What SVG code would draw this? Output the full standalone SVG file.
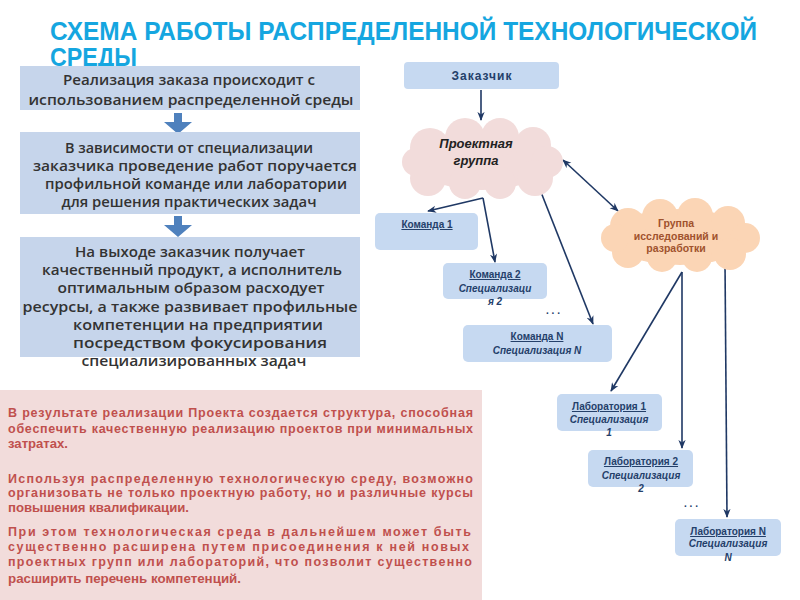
<svg xmlns="http://www.w3.org/2000/svg" width="800" height="600" viewBox="0 0 800 600">
<defs>
<style>
.title{font-family:"Liberation Sans",Arial,sans-serif;font-weight:bold;font-size:25px;fill:#15a6e0}
.lbox{fill:#c6d5eb}
.ltxt{font-family:"Open Sans","Liberation Sans",sans-serif;font-weight:600;font-size:14.5px;fill:#333333;text-anchor:middle}
.rbox{fill:#c6d9f1}
.rt{font-family:"Liberation Sans",Arial,sans-serif;font-weight:bold;font-size:10px;fill:#24406a;text-anchor:middle}
.u{text-decoration:underline}
.it{font-style:italic}
.btxt{font-family:"Liberation Sans",Arial,sans-serif;font-weight:bold;font-size:12.5px;fill:#c0504d}
.conn{stroke:#1f3864;stroke-width:1.6;fill:none}
.bluearrow{fill:#4f81bd}
</style>
<marker id="ah" viewBox="0 0 10 10" refX="9" refY="5" markerWidth="9" markerHeight="9" markerUnits="userSpaceOnUse" orient="auto-start-reverse">
<path d="M0,1 L10,5 L0,9 L3,5 z" fill="#1f3864"/>
</marker>
</defs>
<rect width="800" height="600" fill="#ffffff"/>

<g id="title">
<text class="title" x="50" y="40" textLength="707" lengthAdjust="spacingAndGlyphs">СХЕМА РАБОТЫ РАСПРЕДЕЛЕННОЙ ТЕХНОЛОГИЧЕСКОЙ</text>
<text class="title" x="50" y="66" textLength="87" lengthAdjust="spacingAndGlyphs">СРЕДЫ</text>
</g>

<g id="box1">
<rect class="lbox" x="20" y="66" width="340" height="44"/>
<text class="ltxt" x="189" y="85" textLength="252" lengthAdjust="spacingAndGlyphs">Реализация заказа происходит с</text>
<text class="ltxt" x="191" y="105" textLength="325" lengthAdjust="spacingAndGlyphs">использованием распределенной среды</text>
</g>
<g id="arrow-b1-b2">
<path class="bluearrow" d="M174,113 H182 V122 H192 L178,134 L164,122 H174 Z"/>
</g>
<g id="box2">
<rect class="lbox" x="20" y="132" width="340" height="82"/>
<text class="ltxt" x="189" y="153" textLength="248" lengthAdjust="spacingAndGlyphs">В зависимости от специализации</text>
<text class="ltxt" x="195" y="171" textLength="324" lengthAdjust="spacingAndGlyphs">заказчика проведение работ поручается</text>
<text class="ltxt" x="196" y="189" textLength="302" lengthAdjust="spacingAndGlyphs">профильной команде или лаборатории</text>
<text class="ltxt" x="189" y="207" textLength="255" lengthAdjust="spacingAndGlyphs">для решения практических задач</text>
</g>
<g id="arrow-b2-b3">
<path class="bluearrow" d="M174,216 H182 V225 H192 L178,237 L164,225 H174 Z"/>
</g>
<g id="box3">
<rect class="lbox" x="20" y="237" width="340" height="120"/>
<text class="ltxt" x="190" y="257" textLength="230" lengthAdjust="spacingAndGlyphs">На выходе заказчик получает</text>
<text class="ltxt" x="192" y="275" textLength="300" lengthAdjust="spacingAndGlyphs">качественный продукт, а исполнитель</text>
<text class="ltxt" x="191" y="293" textLength="267" lengthAdjust="spacingAndGlyphs">оптимальным образом расходует</text>
<text class="ltxt" x="190" y="312" textLength="335" lengthAdjust="spacingAndGlyphs">ресурсы, а также развивает профильные</text>
<text class="ltxt" x="198" y="330" textLength="250" lengthAdjust="spacingAndGlyphs">компетенции  на предприятии</text>
<text class="ltxt" x="200" y="348" textLength="254" lengthAdjust="spacingAndGlyphs">посредством фокусирования</text>
<text class="ltxt" x="194" y="366" textLength="225" lengthAdjust="spacingAndGlyphs">специализированных задач</text>
</g>

<g id="summary">
<rect x="0" y="390" width="482" height="210" fill="#f2dcdb"/>
<text class="btxt" x="8" y="417" textLength="465" lengthAdjust="spacing">В результате реализации Проекта создается структура, способная</text>
<text class="btxt" x="8" y="433" textLength="465" lengthAdjust="spacing">обеспечить качественную реализацию проектов при минимальных</text>
<text class="btxt" x="8" y="448" textLength="60" lengthAdjust="spacingAndGlyphs">затратах.</text>
<text class="btxt" x="8" y="483" textLength="465" lengthAdjust="spacing">Используя распределенную технологическую среду, возможно</text>
<text class="btxt" x="8" y="497" textLength="465" lengthAdjust="spacing">организовать не только проектную работу, но и различные курсы</text>
<text class="btxt" x="8" y="512" textLength="181" lengthAdjust="spacingAndGlyphs">повышения квалификации.</text>
<text class="btxt" x="8" y="536" textLength="463" lengthAdjust="spacing">При этом технологическая среда в дальнейшем может быть</text>
<text class="btxt" x="8" y="551" textLength="461" lengthAdjust="spacing">существенно расширена путем присоединения к ней новых</text>
<text class="btxt" x="8" y="566" textLength="464" lengthAdjust="spacing">проектных групп или лабораторий, что позволит существенно</text>
<text class="btxt" x="8" y="583" textLength="233" lengthAdjust="spacingAndGlyphs">расширить перечень компетенций.</text>
</g>

<g id="connectors">
<line class="conn" x1="481" y1="90" x2="481" y2="120" marker-end="url(#ah)"/>
<line class="conn" x1="483" y1="198" x2="428" y2="211" marker-end="url(#ah)"/>
<line class="conn" x1="483" y1="198" x2="495" y2="262" marker-end="url(#ah)"/>
<line class="conn" x1="537" y1="182" x2="593" y2="324" marker-end="url(#ah)"/>
<line class="conn" x1="563" y1="160" x2="618" y2="211" marker-start="url(#ah)" marker-end="url(#ah)"/>
<line class="conn" x1="682" y1="272" x2="611" y2="391" marker-end="url(#ah)"/>
<line class="conn" x1="682" y1="272" x2="682" y2="448" marker-end="url(#ah)"/>
<line class="conn" x1="725" y1="262" x2="727" y2="517" marker-end="url(#ah)"/>
</g>

<g id="zakazchik">
<rect class="rbox" x="404" y="62" width="155" height="27" rx="4"/>
<text class="rt" x="482" y="80" style="font-size:12px;letter-spacing:1px">Заказчик</text>
</g>

<g id="proektnaya-gruppa">
<g fill="#f2dcdb">
<ellipse cx="482" cy="160" rx="68" ry="30"/>
<circle cx="430" cy="148" r="20"/>
<circle cx="465" cy="138" r="20"/>
<circle cx="500" cy="137" r="19"/>
<circle cx="533" cy="145" r="18"/>
<circle cx="547" cy="162" r="16"/>
<circle cx="535" cy="178" r="18"/>
<circle cx="500" cy="183" r="16"/>
<circle cx="465" cy="183" r="16"/>
<circle cx="428" cy="178" r="18"/>
<circle cx="416" cy="162" r="14"/>
</g>
<text class="rt it" x="476" y="148" style="font-size:13px;fill:#222">Проектная</text>
<text class="rt it" x="476" y="165" style="font-size:13px;fill:#222">группа</text>
</g>

<g id="gruppa-issledovaniy">
<g fill="#fbd5b5">
<ellipse cx="680" cy="237" rx="70" ry="28"/>
<circle cx="628" cy="226" r="18"/>
<circle cx="660" cy="217" r="18"/>
<circle cx="695" cy="216" r="18"/>
<circle cx="728" cy="223" r="17"/>
<circle cx="745" cy="238" r="15"/>
<circle cx="730" cy="254" r="16"/>
<circle cx="697" cy="257" r="15"/>
<circle cx="662" cy="257" r="15"/>
<circle cx="628" cy="252" r="16"/>
<circle cx="615" cy="238" r="14"/>
</g>
<text class="rt" x="676" y="227" style="font-size:10.5px;fill:#a0522d">Группа</text>
<text class="rt" x="676" y="240" style="font-size:10.5px;fill:#a0522d">исследований и</text>
<text class="rt" x="676" y="252" style="font-size:10.5px;fill:#a0522d">разработки</text>
</g>

<g id="komanda-1">
<rect class="rbox" x="375" y="213" width="103" height="37" rx="5"/>
<text class="rt u" x="427" y="228">Команда 1</text>
</g>

<g id="komanda-2">
<rect class="rbox" x="443" y="263" width="104" height="36" rx="5"/>
<text class="rt u" x="495" y="278">Команда 2</text>
<text class="rt it" x="495" y="292">Специализаци</text>
<text class="rt it" x="495" y="305">я 2</text>
</g>
<g id="dots-1"><text class="rt" x="553" y="314">. . .</text></g>

<g id="komanda-n">
<rect class="rbox" x="463" y="325" width="149" height="37" rx="5"/>
<text class="rt u" x="537" y="340">Команда N</text>
<text class="rt it" x="537" y="354">Специализация N</text>
</g>

<g id="lab-1">
<rect class="rbox" x="557" y="394" width="105" height="37" rx="5"/>
<text class="rt u" x="609" y="410">Лаборатория 1</text>
<text class="rt it" x="609" y="423">Специализация</text>
<text class="rt it" x="609" y="436">1</text>
</g>

<g id="lab-2">
<rect class="rbox" x="588" y="450" width="105" height="37" rx="5"/>
<text class="rt u" x="641" y="465">Лаборатория 2</text>
<text class="rt it" x="641" y="479">Специализация</text>
<text class="rt it" x="641" y="492">2</text>
</g>
<g id="dots-2"><text class="rt" x="691" y="507">. . .</text></g>

<g id="lab-n">
<rect class="rbox" x="675" y="519" width="106" height="37" rx="5"/>
<text class="rt u" x="728" y="535">Лаборатория N</text>
<text class="rt it" x="728" y="547">Специализация</text>
<text class="rt it" x="728" y="561">N</text>
</g>
</svg>
